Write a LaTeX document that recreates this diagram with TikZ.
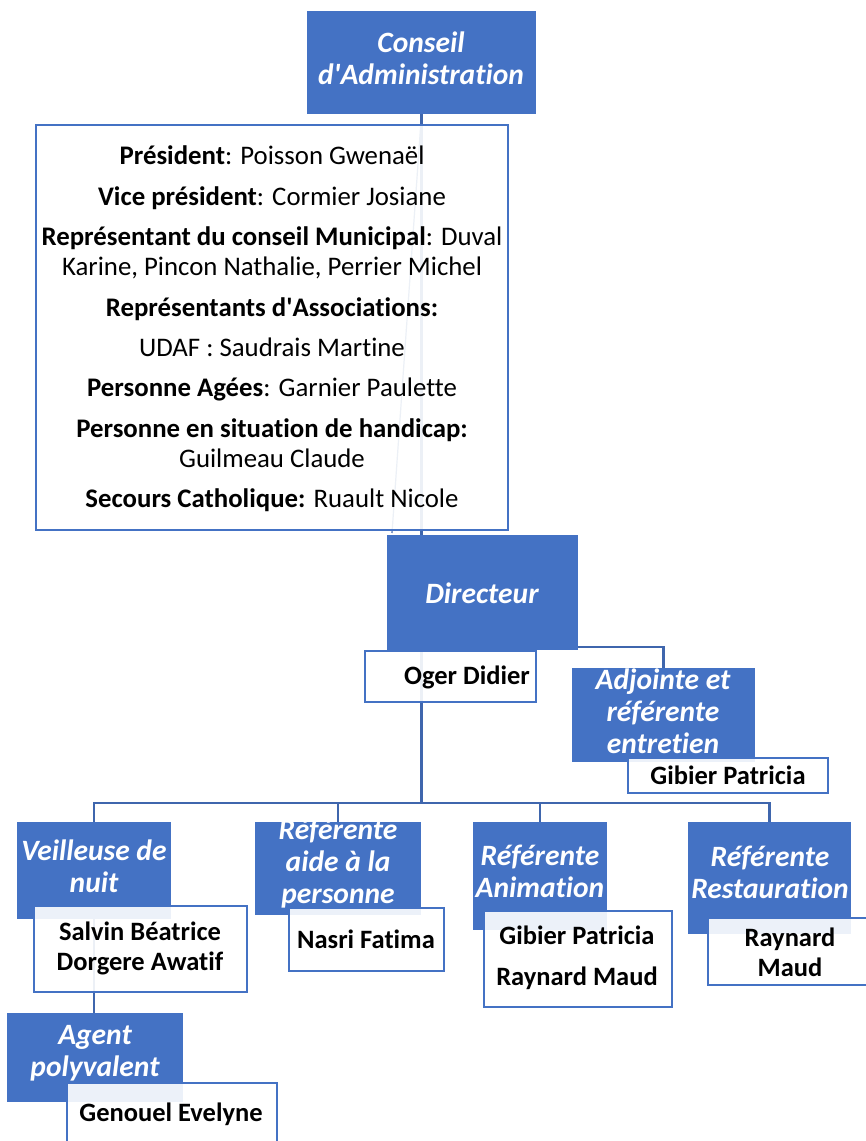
\documentclass[tikz,border=0pt]{standalone}
\usepackage{fontspec}
\setmainfont{Carlito}[Ligatures=CommonOff]
\usetikzlibrary{backgrounds}
\definecolor{cblue}{HTML}{4472C4}
\definecolor{cconn}{HTML}{3F66AD}
\begin{document}
\begin{tikzpicture}[x=1pt,y=-1pt,
  bluebox/.style={fill=cblue, draw=none, inner sep=0pt, outer sep=0pt, anchor=north west},
  whitebox/.style={fill=white, fill opacity=0.9, draw=cblue, line width=2pt, inner sep=0pt, outer sep=0pt, anchor=north west},
  conn/.style={draw=cconn, line width=2.5pt},
  btext/.style={text=white, font=\fontsize{29.5}{32}\selectfont\bfseries\itshape, align=center, inner sep=0pt},
  ntext/.style={text=black, font=\fontsize{26.5}{30}\selectfont\bfseries, align=center, inner sep=0pt},
  mtext/.style={text=black, font=\fontsize{26.8}{30.3}\selectfont, align=center, inner sep=0pt}
]
\useasboundingbox (0,0) rectangle (866,1141);

% blue boxes
\node[bluebox, minimum width=229pt, minimum height=103pt] (ca) at (307,11) {};
\node[bluebox, minimum width=191pt, minimum height=115pt] (dir) at (387,535) {};
\node[bluebox, minimum width=183pt, minimum height=94pt] (adj) at (572,668) {};
\node[bluebox, minimum width=154pt, minimum height=97pt] (veil) at (17,822) {};
\node[bluebox, minimum width=176pt, minimum height=89pt] (agent) at (7,1013) {};
\node[bluebox, minimum width=166pt, minimum height=93pt] (aide) at (255,822) {};
\node[bluebox, minimum width=134pt, minimum height=108pt] (anim) at (473,822) {};
\node[bluebox, minimum width=163pt, minimum height=112pt] (rest) at (688,822) {};

% white boxes
\node[whitebox, minimum width=472pt, minimum height=405pt] (members) at (36,125) {};
\node[whitebox, minimum width=171pt, minimum height=51pt] (oger) at (365,651) {};
\node[whitebox, minimum width=200pt, minimum height=35pt] (gibA) at (628,758) {};
\node[whitebox, minimum width=213pt, minimum height=86pt] (salv) at (34,906) {};
\node[whitebox, minimum width=210pt, minimum height=67pt] (gen) at (67,1083) {};
\node[whitebox, minimum width=155pt, minimum height=63pt] (nasri) at (289,908) {};
\node[whitebox, minimum width=188pt, minimum height=96pt] (gibR) at (484,911) {};
\node[whitebox, minimum width=172pt, minimum height=67pt] (ray) at (708,918) {};

% connectors
\coordinate (bus) at (421.5,803);
\coordinate (ghost) at (392,533);
\begin{pgfonlayer}{background}
\draw[conn] (ca.south) -- (ca.south |- dir.north);
\draw[conn, line width=1.2pt] (ca.south) -- (ghost);
\draw[conn] (dir.south -| bus) -- (bus);
\draw[conn] ([yshift=3pt]dir.south east) -| (adj.north);
\draw[conn] (veil.north) -- (veil.north |- bus) -- (rest.north |- bus) -- (rest.north);
\draw[conn] (aide.north) -- (aide.north |- bus);
\draw[conn] (anim.north) -- (anim.north |- bus);
\draw[conn] (veil.south) -- (veil.south |- agent.north);
\end{pgfonlayer}

% texts in blue boxes
\node[btext] (tca) at (421,58) {Conseil\\d\textquotesingle Administration};
\node[btext] (tdir) at (482,593) {Directeur};
\node[btext] (tadj) at (663,711) {Adjointe et\\référente\\entretien};
\node[btext] (tveil) at (94,866) {Veilleuse de\\nuit};
\node[btext] (taide) at (338,864) {Référente\\aide à la\\personne};
\node[btext] (tanim) at (540,871) {Référente\\Animation};
\node[btext] (trest) at (770,872) {Référente\\Restauration};
\node[btext] (tagent) at (95,1053) {Agent\\polyvalent};

% texts in white boxes
\node[mtext] (tmembers) at (272,329) {%
\textbf{Président}: Poisson Gwenaël\\[10pt]
\textbf{Vice président}: Cormier Josiane\\[10pt]
\textbf{Représentant du conseil Municipal}: Duval\\
Karine, Pincon Nathalie, Perrier Michel\\[10pt]
\textbf{Représentants d\textquotesingle Associations:}\\[10pt]
UDAF : Saudrais Martine\\[10pt]
\textbf{Personne Agées}: Garnier Paulette\\[10pt]
\textbf{Personne en situation de handicap:}\\
Guilmeau Claude\\[10pt]
\textbf{Secours Catholique:} Ruault Nicole};
\node[ntext] (toger) at (467,677) {Oger Didier};
\node[ntext] (tgibA) at (728,775) {Gibier Patricia};
\node[ntext] (tsalv) at (140,948) {Salvin Béatrice\\Dorgere Awatif};
\node[ntext] (tnasri) at (366,939) {Nasri Fatima};
\node[ntext, font=\fontsize{26.5}{41}\selectfont\bfseries] (tgibR) at (577,958) {Gibier Patricia\\Raynard Maud};
\node[ntext] (tray) at (790,952) {Raynard\\Maud};
\node[ntext] (tgen) at (171,1114) {Genouel Evelyne};
\end{tikzpicture}
\end{document}
